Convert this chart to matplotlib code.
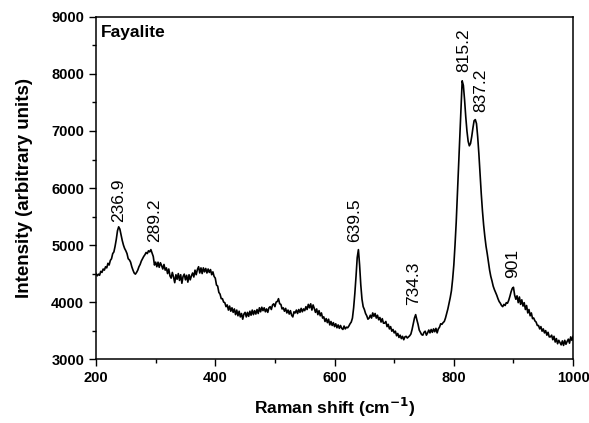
import numpy as np
from matplotlib import pyplot as plt

plt.rcParams['font.family'] = ['Liberation Sans', 'DejaVu Sans']

# Raman spectrum of fayalite, sampled every 2 cm-1 from 200 to 1000
shift = list(range(200, 1001, 2))

intensity = [
    4500, 4460, 4490, 4470, 4540, 4520, 4580, 4560, 4620, 4600,  # 200
    4680, 4650, 4730, 4760, 4850, 4880, 4980, 5100, 5250, 5320,  # 220
    5280, 5180, 5080, 5000, 4940, 4900, 4850, 4760, 4740, 4700,  # 240
    4620, 4560, 4510, 4490, 4520, 4560, 4620, 4660, 4720, 4760,  # 260
    4800, 4830, 4870, 4850, 4900, 4880, 4920, 4860, 4800, 4650,  # 280
    4700, 4620, 4700, 4610, 4690, 4640, 4580, 4660, 4560, 4600,  # 300
    4500, 4580, 4460, 4420, 4520, 4440, 4340, 4480, 4400, 4500,  # 320
    4380, 4480, 4330, 4450, 4490, 4390, 4470, 4350, 4480, 4390,  # 340
    4460, 4510, 4440, 4560, 4480, 4570, 4620, 4510, 4600, 4500,  # 360
    4600, 4530, 4590, 4510, 4580, 4520, 4570, 4480, 4530, 4450,  # 380
    4420, 4300, 4280, 4170, 4140, 4060, 4060, 4000, 3990, 3920,  # 400
    3950, 3860, 3930, 3840, 3900, 3820, 3880, 3780, 3860, 3760,  # 420
    3840, 3740, 3800, 3700, 3790, 3820, 3740, 3820, 3750, 3840,  # 440
    3770, 3860, 3780, 3850, 3790, 3870, 3800, 3900, 3830, 3910,  # 460
    3850, 3900, 3830, 3880, 3820, 3900, 3920, 3870, 3950, 3970,  # 480
    3920, 4000, 4010, 4060, 3970, 3960, 3880, 3900, 3840, 3890,  # 500
    3810, 3860, 3790, 3850, 3770, 3740, 3830, 3810, 3860, 3800,  # 520
    3870, 3820, 3890, 3830, 3880, 3850, 3920, 3870, 3960, 3900,  # 540
    3970, 3860, 3950, 3890, 3820, 3880, 3780, 3850, 3760, 3810,  # 560
    3720, 3740, 3660, 3710, 3640, 3700, 3600, 3660, 3590, 3640,  # 580
    3570, 3620, 3550, 3600, 3540, 3590, 3540, 3520, 3580, 3530,  # 600
    3560, 3550, 3580, 3620, 3650, 3720, 3900, 4150, 4450, 4780,  # 620
    4920, 4650, 4300, 4050, 3920, 3870, 3800, 3760, 3700, 3720,  # 640
    3770, 3720, 3810, 3750, 3800, 3720, 3770, 3690, 3730, 3650,  # 660
    3710, 3630, 3630, 3660, 3570, 3610, 3530, 3570, 3490, 3520,  # 680
    3460, 3490, 3410, 3450, 3380, 3420, 3360, 3400, 3340, 3390,  # 700
    3400, 3370, 3390, 3410, 3440, 3520, 3620, 3720, 3780, 3690,  # 720
    3610, 3510, 3470, 3430, 3420, 3470, 3490, 3420, 3460, 3510,  # 740
    3460, 3520, 3470, 3530, 3480, 3540, 3460, 3530, 3560, 3620,  # 760
    3610, 3640, 3660, 3720, 3800, 3880, 3980, 4080, 4200, 4400,  # 780
    4650, 5000, 5400, 5900, 6400, 6900, 7400, 7880, 7800, 7550,  # 800
    7250, 7000, 6820, 6740, 6780, 6900, 7050, 7180, 7200, 7130,  # 820
    6900, 6600, 6250, 5900, 5600, 5350, 5150, 4980, 4850, 4700,  # 840
    4560, 4450, 4370, 4280, 4220, 4170, 4120, 4060, 4010, 3980,  # 860
    3940, 3920, 3960, 3940, 3990, 3980, 4030, 4100, 4180, 4240,  # 880
    4260, 4120, 4050, 4110, 3990, 4090, 3960, 4040, 3930, 3990,  # 900
    3870, 3940, 3810, 3870, 3760, 3810, 3710, 3720, 3670, 3650,  # 920
    3590, 3590, 3530, 3570, 3490, 3530, 3460, 3500, 3420, 3470,  # 940
    3390, 3390, 3420, 3340, 3400, 3300, 3360, 3270, 3330, 3290,  # 960
    3250, 3320, 3240, 3330, 3260, 3310, 3350, 3280, 3390, 3330,  # 980
    3400,                                                        # 1000
]

# peak annotations: label, x, y of the text base
peak_labels = ['236.9', '289.2', '639.5', '734.3', '815.2', '837.2', '901']
peak_x = [238, 298, 634, 733, 816, 845, 898]
peak_y = [5410, 5050, 5060, 3950, 8040, 7340, 4415]

fig = plt.figure(figsize=(5.89, 4.23), dpi=100)
ax = fig.add_axes([0.163, 0.151, 0.810, 0.809])

ax.plot(shift, intensity, color='black', lw=1.2)

for lab, px, py in zip(peak_labels, peak_x, peak_y):
    ax.text(px, py, lab, rotation=90, ha='center', va='bottom', fontsize=12.5)

ax.text(0.01, 0.975, 'Fayalite', transform=ax.transAxes, ha='left', va='top',
        fontsize=12.5, fontweight='bold')

ax.set_xlim(200, 1000)
ax.set_ylim(3000, 9000)
ax.set_xticks(np.arange(200, 1001, 200))
ax.set_xticks(np.arange(300, 1000, 200), minor=True)
ax.set_yticks(np.arange(3000, 9001, 1000))
ax.set_yticks(np.arange(3500, 9000, 1000), minor=True)
ax.tick_params(which='major', direction='out', length=5, width=1, labelsize=10.5)
ax.tick_params(which='minor', direction='out', length=3, width=1)
for lbl in ax.get_xticklabels() + ax.get_yticklabels():
    lbl.set_fontweight('bold')
for sp in ax.spines.values():
    sp.set_linewidth(1.1)

ax.set_xlabel('Raman shift (cm$^{\\mathbf{-1}}$)', fontsize=12.5, fontweight='bold',
              labelpad=8)
ax.set_ylabel('Intensity (arbitrary units)', fontsize=13.5, fontweight='bold',
              labelpad=13)

fig.savefig('out.png', dpi=100)
